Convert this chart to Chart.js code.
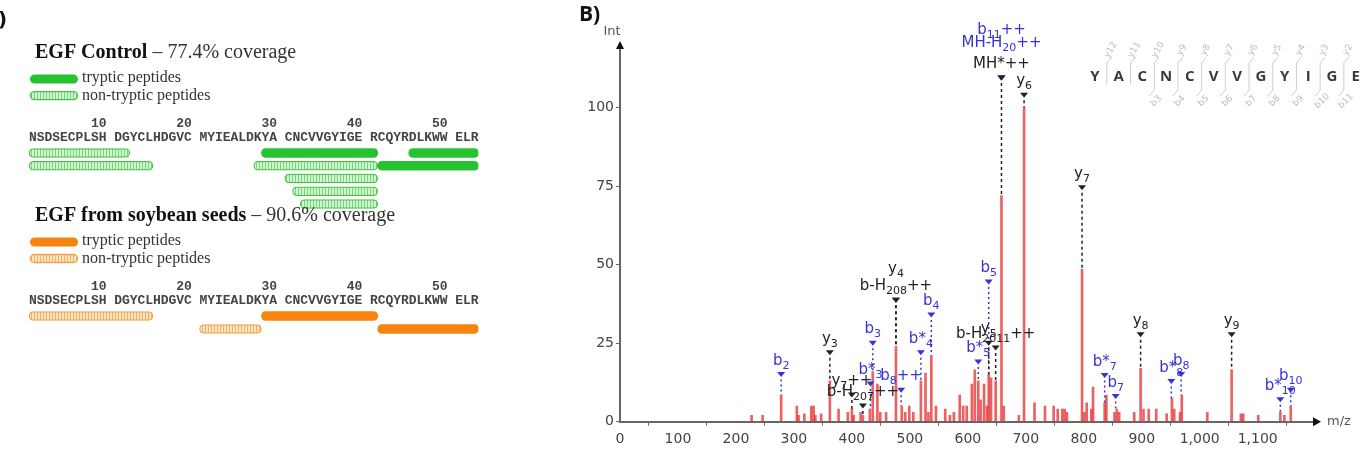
<!DOCTYPE html>
<html lang="en">
<head>
<meta charset="UTF-8">
<title>EGF coverage and MS/MS spectrum</title>
<script src="https://cdn.jsdelivr.net/npm/chart.js"></script>
<style>
  body { margin: 0; background: #fff; width: 1366px; height: 454px; overflow: hidden; position: relative; }
  canvas { position: absolute; }
</style>
</head>
<body>
<canvas id="ctrl" width="560" height="215" style="left:0;top:0"></canvas>
<canvas id="soy" width="560" height="150" style="left:0;top:200px"></canvas>
<canvas id="spec" width="806" height="454" style="left:560px;top:0"></canvas>

<script>
// ---- A) peptide coverage ----
const residues = 'NSDSECPLSHDGYCLHDGVCMYIEALDKYACNCVVGYIGERCQYRDLKWWELR';
const seqNumbers = [10, 20, 30, 40, 50];

// EGF control peptides (residue start/end, row, tryptic?)
const ctrlStart = [1, 29, 46, 1, 28, 42, 31, 32, 33];
const ctrlEnd = [12, 41, 53, 15, 41, 53, 41, 41, 41];
const ctrlRow = [0, 0, 0, 1, 1, 1, 2, 3, 4];
const ctrlTryptic = [false, true, true, false, false, true, false, false, false];

// EGF from soybean seeds peptides
const soyStart = [1, 29, 21, 42];
const soyEnd = [15, 41, 28, 53];
const soyRow = [0, 0, 1, 1];
const soyTryptic = [false, true, false, true];

// ---- B) MS/MS spectrum ----
const peakMz = [227, 246, 278, 305, 308, 318, 330, 334, 337, 347, 362, 377, 393, 400, 403, 415, 419, 431, 436, 444,
  449, 459, 476, 486, 492, 499, 506, 519, 527, 532, 537, 545, 561, 569, 576, 586, 592, 598, 607, 612,
  618, 622, 628, 633, 636, 640, 648, 658, 662, 688, 697, 715, 733, 748, 755, 763, 767, 771, 797, 801,
  805, 813, 816, 836, 839, 853, 857, 861, 887, 898, 903, 912, 925, 943, 952, 956, 966, 969, 1013, 1055,
  1071, 1075, 1101, 1139, 1146, 1157];
const peakInt = [2, 2, 8.5, 5, 2, 2.5, 5, 5, 2, 2.5, 13, 4, 3, 4, 2, 3, 2, 4, 16, 12,
  3, 3, 24, 5, 3, 5, 3, 13, 15.5, 3, 21, 5, 4, 2, 3, 8.5, 5, 5, 12, 16.5,
  13, 7, 12, 5, 15, 14, 13, 72, 5, 2, 100, 6, 5, 5, 4, 4, 4, 3, 48.5, 3,
  6, 4, 11, 6, 8.5, 3, 4, 3, 3, 17, 4, 4, 4, 2.5, 7.5, 4, 3, 8.5, 3, 16.5,
  2.5, 2.5, 2, 3, 2, 5];
const xTicks = [0, 100, 200, 300, 400, 500, 600, 700, 800, 900, 1000, 1100];
const yTicks = [0, 25, 50, 75, 100];

// fragment annotations
const annMz = [278, 362, 400, 419, 432, 436, 485, 476, 476, 519, 537, 618, 636, 636, 648, 658, 658, 658, 697, 797, 836, 855, 898, 951, 968, 1055, 1139, 1157];
const annAt = [15, 22, 8.5, 5, 12, 25, 10, 38.7, 38.7, 22, 34, 19, 44.5, 25, 23.5, 109.5, 109.5, 109.5, 104, 74.5, 14.7, 8, 27.7, 12.8, 15, 27.7, 7, 10];
const annMain = ['b', 'y', 'y', 'b-H', 'b*', 'b', 'b', 'b-H', 'y', 'b*', 'b', 'b*', 'b', 'y', 'b-H', 'MH*++', 'MH-H', 'b', 'y', 'y', 'b*', 'b', 'y', 'b*', 'b', 'y', 'b*', 'b'];
const annSub = ['2', '3', '7', '207', '3', '3', '8', '208', '4', '4', '4', '5', '5', '5', '2011', '', '20', '11', '6', '7', '7', '7', '8', '8', '8', '9', '10', '10'];
const annTail = ['', '', '++', '++', '', '', '++', '++', '', '', '', '', '', '', '++', '', '++', '++', '', '', '', '', '', '', '', '', '', ''];
const annSeries = ['b', 'y', 'y', 'x', 'b', 'b', 'b', 'x', 'y', 'b', 'b', 'b', 'b', 'y', 'x', 'x', 'b', 'b', 'y', 'y', 'b', 'b', 'y', 'b', 'b', 'y', 'b', 'b'];
const annRow = [0, 0, 0, 0, 0, 0, 0, 0, 1, 0, 0, 0, 0, 0, 0, 0, 1.25, 2, 0, 0, 0, 0, 0, 0, 0, 0, 0, 0];

const ladder = 'YACNCVVGYIGE';
const ladderY = ['y12', 'y11', 'y10', 'y9', 'y8', 'y7', 'y6', 'y5', 'y4', 'y3', 'y2'];
const ladderB = ['', '', 'b3', 'b4', 'b5', 'b6', 'b7', 'b8', 'b9', 'b10', 'b11'];

// residue number -> text column (a space after every 10 residues)
function col(i) { return (i - 1) + Math.floor((i - 1) / 10); }

function stripes(fill, line) {
  var c = document.createElement('canvas');
  c.width = 3; c.height = 4;
  var g = c.getContext('2d');
  g.fillStyle = fill; g.fillRect(0, 0, 3, 4);
  g.fillStyle = line; g.fillRect(1, 0, 1, 4);
  return g.createPattern(c, 'repeat');
}

function makePanel(id, colors, titleBold, titleRest, starts, ends, rows, tryptic, nRows, padTop, padBottom, bracket) {
  var labels = [];
  for (var r = 0; r < nRows; r++) labels.push('r' + (r + 1));
  var trypData = [], nonData = [];
  starts.forEach(function (s, i) {
    var pt = { x: [col(s), col(ends[i]) + 1], y: labels[rows[i]] };
    (tryptic[i] ? trypData : nonData).push(pt);
  });
  var pattern = stripes(colors.pale, colors.stripe);

  var deco = {
    id: 'deco',
    afterDraw: function (chart) {
      var ctx = chart.ctx, xs = chart.scales.x, top = chart.chartArea.top;
      ctx.save();
      if (bracket) {
        ctx.font = 'bold 20px "DejaVu Sans"';
        ctx.fillStyle = '#111';
        ctx.textBaseline = 'middle';
        ctx.fillText(')', -2, 21);
      }
      // title
      ctx.textBaseline = 'alphabetic';
      ctx.font = 'bold 20px "Liberation Serif"';
      ctx.fillStyle = '#111';
      ctx.fillText(titleBold, 35, top - 89);
      var w = ctx.measureText(titleBold).width;
      ctx.font = '20px "Liberation Serif"';
      ctx.fillStyle = '#333';
      ctx.fillText(' \u2013 ' + titleRest, 35 + w, top - 89);
      // legend
      ctx.textBaseline = 'middle';
      ctx.beginPath();
      ctx.roundRect(30, top - 72, 48, 9, 4.5);
      ctx.fillStyle = colors.solid; ctx.fill();
      ctx.beginPath();
      ctx.roundRect(30.5, top - 55, 47, 8, 4);
      ctx.fillStyle = pattern; ctx.fill();
      ctx.strokeStyle = colors.edge; ctx.lineWidth = 1.3; ctx.stroke();
      ctx.font = '16px "Liberation Serif"';
      ctx.fillStyle = '#333';
      ctx.fillText('tryptic peptides', 82, top - 69);
      ctx.fillText('non-tryptic peptides', 82, top - 51);
      // numbers and sequence
      ctx.font = 'bold 13px "Liberation Mono"';
      ctx.fillStyle = '#444';
      ctx.textAlign = 'right';
      seqNumbers.forEach(function (n) {
        ctx.fillText(String(n), xs.getPixelForValue(col(n) + 1), top - 23);
      });
      ctx.textAlign = 'center';
      for (var i = 1; i <= residues.length; i++) {
        ctx.fillText(residues[i - 1], xs.getPixelForValue(col(i) + 0.5), top - 8.5);
      }
      ctx.restore();
    }
  };

  return new Chart(document.getElementById(id), {
    type: 'bar',
    data: {
      labels: labels,
      datasets: [
        { data: trypData, backgroundColor: colors.solid, borderWidth: 0, borderRadius: 5, borderSkipped: false, barThickness: 9, grouped: false },
        { data: nonData, backgroundColor: pattern, borderColor: colors.edge, borderWidth: 1.3, borderRadius: 5, borderSkipped: false, barThickness: 9, grouped: false }
      ]
    },
    options: {
      indexAxis: 'y',
      responsive: false,
      animation: false,
      layout: { padding: { left: 29, right: 81.5, top: padTop, bottom: padBottom } },
      plugins: { legend: { display: false }, tooltip: { enabled: false } },
      scales: {
        x: { type: 'linear', min: 0, max: 58, display: false },
        y: { type: 'category', display: false }
      }
    },
    plugins: [deco]
  });
}

makePanel('ctrl', { solid: '#27c22f', pale: '#d4f3d4', stripe: '#74d874', edge: '#45c545' },
  'EGF Control', '77.4% coverage', ctrlStart, ctrlEnd, ctrlRow, ctrlTryptic, 5, 146.6, 4.6, true);
makePanel('soy', { solid: '#f6840e', pale: '#fde4c2', stripe: '#f2b266', edge: '#f0a24c' },
  'EGF from soybean seeds', '90.6% coverage', soyStart, soyEnd, soyRow, soyTryptic, 2, 109.5, 14.5, false);

// ---- spectrum ----
const BLUE = '#3434d8', BLACK = '#222';

function drawIonLabel(ctx, x, yBase, main, sub, tail, color) {
  ctx.font = '15px "DejaVu Sans"';
  var wm = ctx.measureText(main).width, wt = ctx.measureText(tail).width;
  ctx.font = '11px "DejaVu Sans"';
  var ws = ctx.measureText(sub).width;
  var x0 = x - (wm + ws + wt) / 2;
  ctx.fillStyle = color;
  ctx.textAlign = 'left';
  ctx.textBaseline = 'alphabetic';
  ctx.font = '15px "DejaVu Sans"';
  ctx.fillText(main, x0, yBase);
  ctx.fillText(tail, x0 + wm + ws, yBase);
  ctx.font = '11px "DejaVu Sans"';
  ctx.fillText(sub, x0 + wm, yBase + 4);
}

// a blue annotation hidden under a black one at the same spot draws no connector
function coveredByBlack(i) {
  return annMz.some(function (m, j) {
    return j !== i && annSeries[j] !== 'b' && m === annMz[i] && annAt[j] >= annAt[i];
  });
}

var specDeco = {
  id: 'specDeco',
  afterDraw: function (chart) {
    var ctx = chart.ctx, xs = chart.scales.x, ys = chart.scales.y, a = chart.chartArea;
    ctx.save();
    // axis arrows
    ctx.fillStyle = '#111';
    ctx.beginPath();
    ctx.moveTo(a.left, a.top - 4); ctx.lineTo(a.left - 4, a.top + 4); ctx.lineTo(a.left + 4, a.top + 4);
    ctx.fill();
    ctx.beginPath();
    ctx.moveTo(a.right + 3, a.bottom); ctx.lineTo(a.right - 5, a.bottom - 4.5); ctx.lineTo(a.right - 5, a.bottom + 4.5);
    ctx.fill();
    ctx.font = '13px "DejaVu Sans"';
    ctx.fillStyle = '#555';
    ctx.textAlign = 'center';
    ctx.textBaseline = 'middle';
    ctx.fillText('Int', a.left - 8, a.top - 13);
    ctx.fillText('m/z', a.right + 21, a.bottom);
    ctx.font = 'bold 21px "Open Sans"';
    ctx.fillStyle = '#111';
    ctx.textAlign = 'left';
    ctx.fillText('B)', 19, 15);

    // connectors and markers, blue first, black on top
    ['b', 'k'].forEach(function (pass) {
      annMz.forEach(function (mz, i) {
        var blue = annSeries[i] === 'b';
        if ((pass === 'b') !== blue) return;
        var color = blue ? BLUE : BLACK;
        var x = xs.getPixelForValue(mz), yM = ys.getPixelForValue(annAt[i]);
        var best = -1, d = 4;
        peakMz.forEach(function (p, j) { if (Math.abs(p - mz) <= d) { d = Math.abs(p - mz); best = j; } });
        if (best >= 0 && !(blue && coveredByBlack(i))) {
          var yP = ys.getPixelForValue(peakInt[best]);
          if (yP > yM + 6) {
            ctx.strokeStyle = color;
            ctx.lineWidth = 1.5;
            ctx.setLineDash(blue ? [2, 3] : [3, 3]);
            ctx.beginPath(); ctx.moveTo(x, yM + 5); ctx.lineTo(x, yP); ctx.stroke();
            ctx.setLineDash([]);
          }
        }
        ctx.fillStyle = color;
        ctx.beginPath();
        ctx.moveTo(x - 4, yM - 2.5); ctx.lineTo(x + 4, yM - 2.5); ctx.lineTo(x, yM + 2.5);
        ctx.fill();
      });
    });
    // labels
    annMz.forEach(function (mz, i) {
      var color = annSeries[i] === 'b' ? BLUE : BLACK;
      drawIonLabel(ctx, xs.getPixelForValue(mz), ys.getPixelForValue(annAt[i]) - 10 - annRow[i] * 17,
        annMain[i], annSub[i], annTail[i], color);
    });

    // peptide ladder
    var step = 23.7, x0 = a.right - 223, yL = a.top + 32;
    ctx.font = 'bold 15px "Open Sans"';
    ctx.fillStyle = '#3a3a3a';
    ctx.textAlign = 'center';
    ctx.textBaseline = 'middle';
    for (var k = 0; k < ladder.length; k++) ctx.fillText(ladder[k], x0 + k * step, yL);
    ctx.strokeStyle = '#cdcdcd';
    ctx.lineWidth = 1;
    ctx.font = '9px "DejaVu Sans"';
    ctx.fillStyle = '#bdbdbd';
    for (var g = 0; g < ladderY.length; g++) {
      var mid = x0 + g * step + step / 2;
      ctx.beginPath();
      ctx.moveTo(mid + 5, yL - 20); ctx.lineTo(mid, yL - 14); ctx.lineTo(mid, yL + (ladderB[g] ? 0 : 8));
      if (ladderB[g]) { ctx.lineTo(mid, yL + 13); ctx.lineTo(mid - 5, yL + 19); }
      ctx.stroke();
      ctx.save();
      ctx.translate(mid + 4, yL - 27); ctx.rotate(-Math.PI / 3);
      ctx.fillText(ladderY[g], 0, 0);
      ctx.restore();
      if (ladderB[g]) {
        ctx.save();
        ctx.translate(mid + 2, yL + 24); ctx.rotate(-Math.PI / 4);
        ctx.fillText(ladderB[g], 0, 0);
        ctx.restore();
      }
    }
    ctx.restore();
  }
};

var axisFont = { family: '"DejaVu Sans"', size: 14 };
new Chart(document.getElementById('spec'), {
  type: 'bar',
  data: {
    datasets: [{
      data: peakMz.map(function (m, i) { return { x: m, y: peakInt[i] }; }),
      backgroundColor: 'rgba(228,45,45,0.75)',
      barThickness: 2
    }]
  },
  options: {
    responsive: false,
    animation: false,
    layout: { padding: { left: 0, right: 48, top: 45, bottom: 0 } },
    plugins: { legend: { display: false }, tooltip: { enabled: false } },
    scales: {
      x: {
        type: 'linear', min: 0, max: 1204, offset: false,
        afterFit: function (s) { s.height = 32.3; },
        afterBuildTicks: function (s) { s.ticks = xTicks.map(function (v) { return { value: v }; }); },
        ticks: { color: '#444', font: axisFont, maxRotation: 0, autoSkip: false, padding: 5,
          callback: function (v) { return v.toLocaleString('en-US'); } },
        grid: { drawOnChartArea: false, drawTicks: true, tickLength: 4, color: '#666' },
        border: { color: '#666', width: 2 }
      },
      y: {
        min: 0, max: 120,
        afterFit: function (s) { s.width = 60; },
        afterBuildTicks: function (s) { s.ticks = yTicks.map(function (v) { return { value: v }; }); },
        ticks: { color: '#444', font: axisFont, padding: 2 },
        grid: { drawOnChartArea: false, drawTicks: true, tickLength: 4, color: '#666' },
        border: { color: '#666', width: 2 }
      }
    }
  },
  plugins: [specDeco]
});
</script>
</body>
</html>
